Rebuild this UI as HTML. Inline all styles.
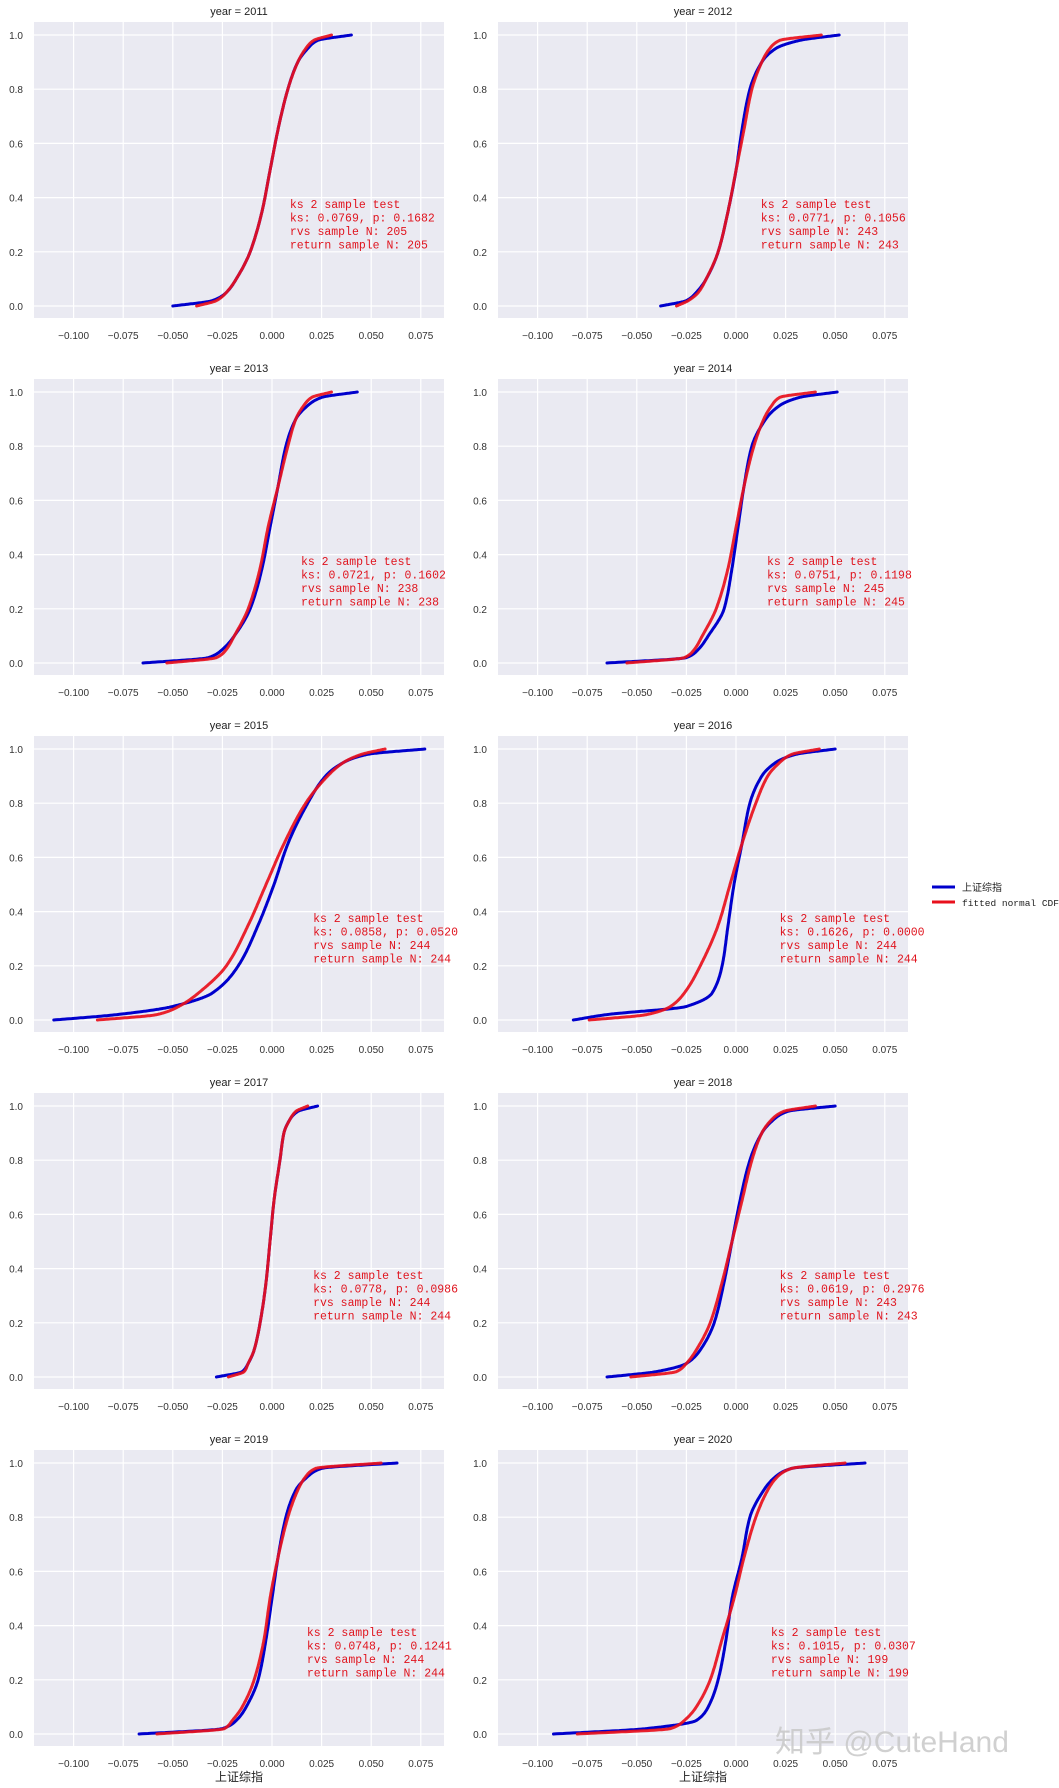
<!DOCTYPE html>
<html><head><meta charset="utf-8">
<style>
html,body{margin:0;padding:0;background:#fff;}
svg{display:block;}
</style></head>
<body>
<svg id="chart" width="1059" height="1788" viewBox="0 0 1059 1788" xmlns="http://www.w3.org/2000/svg" font-family="'Liberation Sans','Noto Sans CJK SC',sans-serif"></svg>
<script>
const years = [2011,2012,2013,2014,2015,2016,2017,2018,2019,2020];
const levels = [0,0.02,0.05,0.1,0.2,0.35,0.5,0.65,0.8,0.9,0.95,0.98,1];
const blueX = [
 [-0.050,-0.030,-0.023,-0.018,-0.011,-0.005,-0.001,0.003,0.008,0.013,0.018,0.023,0.040],
 [-0.038,-0.025,-0.020,-0.015,-0.009,-0.004,0.000,0.003,0.007,0.013,0.020,0.032,0.052],
 [-0.065,-0.032,-0.025,-0.019,-0.011,-0.005,-0.001,0.003,0.007,0.012,0.018,0.025,0.043],
 [-0.065,-0.025,-0.019,-0.014,-0.006,-0.002,0.001,0.004,0.008,0.015,0.022,0.032,0.051],
 [-0.110,-0.078,-0.050,-0.030,-0.017,-0.007,0.001,0.008,0.018,0.027,0.036,0.048,0.077],
 [-0.082,-0.065,-0.025,-0.012,-0.007,-0.004,-0.001,0.003,0.007,0.013,0.020,0.030,0.050],
 [-0.028,-0.015,-0.012,-0.009,-0.006,-0.003,-0.001,0.001,0.004,0.006,0.009,0.013,0.023],
 [-0.065,-0.040,-0.025,-0.018,-0.011,-0.006,-0.002,0.002,0.007,0.013,0.019,0.026,0.050],
 [-0.067,-0.025,-0.018,-0.013,-0.007,-0.003,0.000,0.003,0.007,0.012,0.018,0.025,0.063],
 [-0.092,-0.045,-0.020,-0.014,-0.009,-0.005,-0.002,0.003,0.007,0.014,0.020,0.028,0.065]
];
const redX = [
 [-0.038,-0.028,-0.023,-0.018,-0.011,-0.005,-0.001,0.003,0.008,0.013,0.017,0.021,0.030],
 [-0.030,-0.024,-0.019,-0.015,-0.009,-0.004,0.000,0.004,0.008,0.013,0.017,0.022,0.043],
 [-0.053,-0.028,-0.023,-0.019,-0.012,-0.006,-0.002,0.003,0.008,0.012,0.016,0.020,0.030],
 [-0.055,-0.026,-0.021,-0.017,-0.010,-0.004,0.000,0.004,0.009,0.014,0.018,0.022,0.040],
 [-0.088,-0.058,-0.047,-0.037,-0.023,-0.012,-0.003,0.006,0.017,0.028,0.036,0.045,0.057],
 [-0.074,-0.045,-0.033,-0.026,-0.018,-0.009,-0.003,0.003,0.010,0.016,0.022,0.028,0.042],
 [-0.022,-0.014,-0.012,-0.009,-0.006,-0.003,-0.001,0.001,0.004,0.006,0.009,0.012,0.018],
 [-0.053,-0.030,-0.025,-0.020,-0.013,-0.007,-0.002,0.003,0.008,0.013,0.018,0.024,0.040],
 [-0.058,-0.024,-0.020,-0.015,-0.009,-0.004,-0.001,0.003,0.008,0.013,0.017,0.022,0.055],
 [-0.080,-0.033,-0.026,-0.020,-0.013,-0.007,-0.001,0.004,0.010,0.016,0.021,0.028,0.055]
];
const ksVals = ["0.0769","0.0771","0.0721","0.0751","0.0858","0.1626","0.0778","0.0619","0.0748","0.1015"];
const pVals = ["0.1682","0.1056","0.1602","0.1198","0.0520","0.0000","0.0986","0.2976","0.1241","0.0307"];
const sampleN = [205,243,238,245,244,244,244,243,244,199];
const annotX = [0.009,0.0125,0.0146,0.0156,0.0207,0.022,0.0207,0.022,0.0176,0.0176];
const xTicks = [-0.1,-0.075,-0.05,-0.025,0,0.025,0.05,0.075];
const xTickLabels = ["\u22120.100","\u22120.075","\u22120.050","\u22120.025","0.000","0.025","0.050","0.075"];
const yTicks = [0,0.2,0.4,0.6,0.8,1.0];
const yTickLabels = ["0.0","0.2","0.4","0.6","0.8","1.0"];

const NS="http://www.w3.org/2000/svg";
const svg=document.getElementById('chart');
function mk(tag,attrs,parent){const e=document.createElementNS(NS,tag);for(const k in attrs)e.setAttribute(k,attrs[k]);(parent||svg).appendChild(e);return e;}
const PW=410,PH=296;
// monotone cubic interpolation of x as function of y
function monotone(ys,xs){
  const n=ys.length,d=[],m=new Array(n);
  for(let i=0;i<n-1;i++)d.push((xs[i+1]-xs[i])/(ys[i+1]-ys[i]));
  m[0]=d[0];m[n-1]=d[n-2];
  for(let i=1;i<n-1;i++){m[i]=(d[i-1]*d[i]<=0)?0:2/(1/d[i-1]+1/d[i]);}
  return function(y){
    let i=0;while(i<n-2&&y>ys[i+1])i++;
    const h=ys[i+1]-ys[i],t=(y-ys[i])/h,t2=t*t,t3=t2*t;
    return (2*t3-3*t2+1)*xs[i]+(t3-2*t2+t)*h*m[i]+(-2*t3+3*t2)*xs[i+1]+(t3-t2)*h*m[i+1];
  };
}
function curvePath(xs,sx,sy){
  const f=monotone(levels,xs);
  const pts=[];
  for(let k=0;k<levels.length-1;k++){
    for(let j=0;j<30;j++){const y=levels[k]+(levels[k+1]-levels[k])*j/30;pts.push([sx(f(y)),sy(y)]);}
  }
  pts.push([sx(xs[xs.length-1]),sy(1)]);
  return 'M'+pts.map(p=>p[0].toFixed(1)+','+p[1].toFixed(1)).join(' L');
}
years.forEach((yr,i)=>{
  const c=i%2,r=Math.floor(i/2);
  const px0=34+c*464,py0=22+r*357;
  const sx=v=>px0+238+v*1984;
  const sy=v=>py0+284-v*271;
  const g=mk('g',{});
  
  
  const bg=mk('rect',{x:px0,y:py0,width:PW,height:PH,fill:'#eaeaf2'},g);
  
  
  xTicks.forEach((t,k)=>{
    mk('line',{x1:sx(t),x2:sx(t),y1:py0,y2:py0+PH,stroke:'#fff','stroke-width':1.2},g);
    const tl=mk('text',{x:sx(t),y:py0+PH+21,'font-size':10,fill:'#333','text-anchor':'middle'},g);
    tl.textContent=xTickLabels[k];
    
    
  });
  yTicks.forEach((t,k)=>{
    mk('line',{x1:px0,x2:px0+PW,y1:sy(t),y2:sy(t),stroke:'#fff','stroke-width':1.2},g);
    const tl=mk('text',{x:px0-11,y:sy(t)+4,'font-size':10,fill:'#333','text-anchor':'end'},g);
    tl.textContent=yTickLabels[k];
    
    
  });
  const title=mk('text',{x:px0+205,y:py0-7,'font-size':11,fill:'#222','text-anchor':'middle'},g);
  title.textContent='year = '+yr;
  
  
  const bp=mk('path',{d:curvePath(blueX[i],sx,sy),fill:'none',stroke:'#0000cc','stroke-width':3,'stroke-linecap':'round','stroke-linejoin':'round'},g);
  
  
  const rp=mk('path',{d:curvePath(redX[i],sx,sy),fill:'none',stroke:'#e8101c','stroke-width':3,'stroke-linecap':'round','stroke-linejoin':'round','stroke-opacity':0.92},g);
  
  
  const lines=['ks 2 sample test','ks: '+ksVals[i]+', p: '+pVals[i],'rvs sample N: '+sampleN[i],'return sample N: '+sampleN[i]];
  const at=mk('text',{'font-family':"'Liberation Mono',monospace",'font-size':11.5,fill:'#e0141e'},g);
  
  
  lines.forEach((s,k)=>{const ts=mk('tspan',{x:sx(annotX[i]),y:sy(0.38-0.05*k)+5},at);ts.textContent=s;});
});
[239,703].forEach(x=>{
  const t=mk('text',{x:x,y:1781,'font-size':12,fill:'#222','text-anchor':'middle'});
  t.textContent='上证综指';
  
  
});
const lg=mk('g',{});


mk('line',{x1:932,x2:955,y1:887,y2:887,stroke:'#0000cc','stroke-width':3},lg);
const l1=mk('text',{x:962,y:891,'font-size':10,fill:'#222'},lg);l1.textContent='上证综指';


mk('line',{x1:932,x2:955,y1:902,y2:902,stroke:'#e8101c','stroke-width':3},lg);
const l2=mk('text',{x:962,y:906,'font-size':9.5,fill:'#222','font-family':"'Liberation Mono',monospace"},lg);l2.textContent='fitted normal CDF';


const wm=mk('text',{x:775,y:1752,'font-size':30,fill:'#c8c8c8','fill-opacity':0.85});
wm.textContent='知乎 @CuteHand';


</script>
</body></html>
